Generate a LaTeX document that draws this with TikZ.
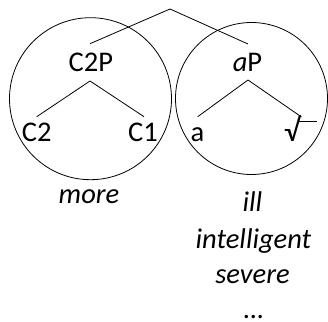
\documentclass[tikz,border=0pt]{standalone}
\usepackage{fontspec}
\setmainfont{Carlito}
\begin{document}
\begin{tikzpicture}[x=1pt,y=1pt,
  lbl/.style={anchor=base,inner sep=0pt,outer sep=0pt,font=\fontsize{28.5}{34}\selectfont},
  ilbl/.style={lbl,font=\fontsize{28.5}{34}\selectfont\itshape},
  branch/.style={line width=0.8pt},
  bubble/.style={line width=0.8pt}]
\useasboundingbox (0,0) rectangle (328,321);
% circles
\draw[bubble] (90.5,222.3) circle[radius=81];
\draw[bubble] (251.5,222.5) circle[radius=76];
% labels
\node[lbl] (c2p) at (90.8,249.3) {C2P};
\node[lbl] (ap) at (247.5,249.3) {{\itshape a}P};
\node[lbl] (c2) at (36.7,179.3) {C2};
\node[lbl] (c1) at (143,179.3) {C1};
\node[lbl] (a) at (197.5,179.3) {a};
\node[lbl,font=\fontsize{32}{34}\selectfont] (root) at (292,179.5) {√};
\node[ilbl] (more) at (89,117.7) {more};
\node[ilbl] (ill) at (252.5,109.3) {ill};
\node[ilbl] (intel) at (253.5,72.7) {intelligent};
\node[ilbl] (severe) at (252.5,37.7) {severe};
\node[ilbl] (dots) at (254,2.5) {…};
% tree coordinates
\coordinate (top) at (170,312);
\coordinate (c2pT) at (90,277.3);
\coordinate (apT) at (248,277);
\coordinate (c2pB) at (90,240);
\coordinate (c2T) at (36.7,204.3);
\coordinate (c1T) at (144,204.3);
\coordinate (apB) at (248,241);
\coordinate (aT) at (197.7,204.3);
\coordinate (rootT) at (301.5,204);
\draw[branch] (c2pT) -- (top) -- (apT);
\draw[branch] (c2T) -- (c2pB) -- (c1T);
\draw[branch] (aT) -- (apB) -- (rootT);
% bar of the root sign
\coordinate (barY) at (0,199.6);
\draw[line width=1.3pt] ([xshift=-2pt]root.east |- barY) -- (317,199.6) coordinate (barR);
\end{tikzpicture}
\end{document}
